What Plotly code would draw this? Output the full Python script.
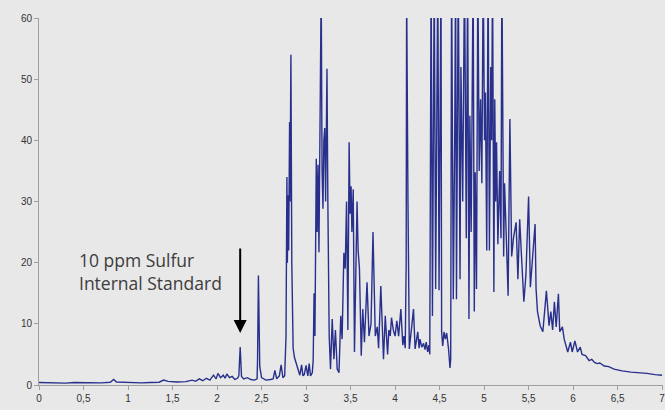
import plotly.graph_objects as go

# Retention time (x) and signal (y)
time_vals = [
    0.00, 0.10, 0.20, 0.30, 0.40, 0.50, 0.60, 0.70, 0.80, 0.84, 0.87, 0.95, 1.05, 1.15, 1.25, 1.35,
    1.40, 1.45, 1.55, 1.65, 1.72, 1.76, 1.80, 1.84, 1.88, 1.92, 1.96, 1.99, 2.01, 2.04, 2.07, 2.09,
    2.11, 2.14, 2.17, 2.20, 2.23, 2.245, 2.26, 2.275, 2.30, 2.34, 2.38, 2.42, 2.45, 2.455, 2.465,
    2.48, 2.50, 2.55, 2.60, 2.63, 2.65, 2.67, 2.70, 2.72, 2.74, 2.76, 2.775, 2.785, 2.79, 2.80,
    2.805, 2.815, 2.82, 2.83, 2.84, 2.855, 2.87, 2.89, 2.91, 2.93, 2.95, 2.965, 2.98, 3.00, 3.02,
    3.035, 3.05, 3.07, 3.08, 3.09, 3.10, 3.11, 3.115, 3.125, 3.135, 3.145, 3.16, 3.17, 3.18, 3.19,
    3.20, 3.21, 3.22, 3.235, 3.245, 3.25, 3.26, 3.275, 3.294, 3.313, 3.33, 3.35, 3.37, 3.39, 3.405,
    3.425, 3.44, 3.455, 3.47, 3.484, 3.495, 3.506, 3.515, 3.53, 3.544, 3.573, 3.585, 3.60, 3.62,
    3.637, 3.656, 3.685, 3.707, 3.73, 3.752, 3.778, 3.80, 3.815, 3.84, 3.87, 3.89, 3.916, 3.93,
    3.946, 3.96, 3.98, 4.00, 4.02, 4.04, 4.065, 4.087, 4.10, 4.114, 4.125, 4.13, 4.145, 4.16, 4.19,
    4.207, 4.225, 4.24, 4.255, 4.27, 4.28, 4.30, 4.32, 4.337, 4.35, 4.366, 4.38, 4.39, 4.405, 4.42,
    4.44, 4.456, 4.48, 4.494, 4.516, 4.523, 4.535, 4.55, 4.565, 4.58, 4.60, 4.617, 4.625, 4.635,
    4.654, 4.67, 4.68, 4.69, 4.71, 4.73, 4.74, 4.76, 4.78, 4.80, 4.815, 4.83, 4.84, 4.855, 4.877,
    4.89, 4.90, 4.915, 4.93, 4.945, 4.96, 4.975, 4.99, 5.005, 5.015, 5.03, 5.045, 5.06, 5.075,
    5.085, 5.095, 5.11, 5.12, 5.13, 5.14, 5.155, 5.175, 5.19, 5.20, 5.22, 5.23, 5.25, 5.27, 5.29,
    5.31, 5.33, 5.36, 5.38, 5.40, 5.417, 5.447, 5.47, 5.50, 5.52, 5.55, 5.573, 5.584, 5.60, 5.63,
    5.66, 5.68, 5.70, 5.73, 5.75, 5.77, 5.79, 5.81, 5.835, 5.85, 5.88, 5.90, 5.94, 5.97, 5.99, 6.02,
    6.05, 6.08, 6.10, 6.14, 6.18, 6.21, 6.24, 6.27, 6.30, 6.35, 6.40, 6.46, 6.55, 6.65, 6.75, 6.83,
    6.92, 7.00,
]
signal_vals = [
    0.4, 0.35, 0.4, 0.3, 0.4, 0.35, 0.4, 0.35, 0.45, 0.9, 0.5, 0.45, 0.4, 0.35, 0.4, 0.45,
    0.8, 0.6, 0.5, 0.55, 0.8, 0.6, 1.0, 0.7, 1.1, 0.8, 1.6, 1.0, 1.9, 1.2, 1.6, 1.1,
    1.8, 1.2, 1.4, 0.9, 1.1, 1.5, 6.2, 1.4, 1.0, 1.2, 0.9, 0.8, 1.0, 4.0, 17.9,
    3.0, 1.2, 0.8, 0.9, 1.0, 2.4, 1.0, 1.5, 3.3, 1.2, 1.5, 8.0, 34.0, 20.0, 31.0,
    22.0, 43.0, 30.0, 54.0, 20.0, 6.0, 4.5, 3.6, 2.5, 1.6, 3.3, 1.5, 1.7, 3.2, 1.5,
    3.5, 1.5, 2.0, 4.0, 15.0, 8.0, 30.0, 37.0, 25.0, 36.0, 21.7, 45.0, 65.0, 35.0, 28.8,
    40.0, 42.0, 30.0, 51.7, 30.0, 14.0, 8.0, 2.6, 10.8, 4.2, 9.0, 2.6, 2.0, 11.3, 7.5,
    21.6, 19.0, 30.0, 9.0, 39.7, 28.0, 32.5, 25.0, 32.0, 5.4, 30.0, 22.0, 19.0, 4.8,
    12.4, 7.0, 16.8, 8.0, 10.0, 25.0, 8.0, 9.5, 6.0, 16.2, 4.2, 11.3, 5.0, 9.0,
    8.0, 11.0, 9.0, 8.0, 10.5, 8.0, 12.4, 6.5, 8.0, 6.0, 20.0, 65.0, 30.0, 5.9, 10.0,
    12.4, 5.9, 7.0, 8.7, 6.0, 7.5, 6.2, 6.8, 5.8, 7.0, 5.4, 6.5, 5.0, 68.0, 11.3,
    68.0, 15.7, 68.0, 15.5, 68.0, 8.7, 6.4, 8.7, 7.5, 8.5, 6.0, 2.8, 4.2, 68.0,
    14.0, 40.0, 68.0, 14.0, 68.0, 17.3, 52.0, 30.0, 68.0, 24.0, 68.0, 10.8, 44.0, 25.0, 68.0,
    12.0, 34.8, 15.7, 68.0, 35.0, 46.7, 33.0, 68.0, 40.0, 47.8, 22.0, 68.0, 22.0, 52.0,
    40.0, 68.0, 15.2, 46.7, 30.0, 39.7, 23.0, 35.0, 24.0, 68.0, 21.0, 33.0, 24.0, 14.6, 43.5,
    21.0, 24.0, 26.6, 17.3, 27.1, 22.0, 13.6, 18.0, 30.8, 16.0, 22.0, 26.3, 15.7, 12.0, 9.7,
    8.7, 12.0, 15.4, 9.7, 12.0, 9.0, 13.6, 9.5, 14.9, 8.7, 9.5, 7.5, 5.4, 7.0, 5.4, 7.2,
    5.4, 6.2, 5.0, 4.8, 4.0, 4.2, 3.7, 3.5, 3.6, 3.1, 3.0, 2.6, 2.3, 2.1, 2.0, 1.9,
    1.7, 1.6,
]

x_tick_vals = [0, 0.5, 1, 1.5, 2, 2.5, 3, 3.5, 4, 4.5, 5, 5.5, 6, 6.5, 7]
x_tick_text = ["0", "0,5", "1", "1,5", "2", "2,5", "3", "3,5", "4", "4,5", "5", "5,5", "6", "6,5", "7"]
y_tick_vals = [0, 10, 20, 30, 40, 50, 60]

annotation_text = "10 ppm Sulfur<br>Internal Standard"
standard_peak_x = 2.26

BG = "rgb(232,232,232)"
AXIS = "rgb(160,160,160)"
TXT = "rgb(51,51,51)"

fig = go.Figure()
fig.add_trace(go.Scatter(
    x=time_vals, y=signal_vals, mode="lines",
    line=dict(color="rgb(40,48,140)", width=1.4),
    hoverinfo="skip", showlegend=False,
))

fig.add_annotation(
    x=0.43, y=18.6, xref="x", yref="y", text=annotation_text, showarrow=False,
    xanchor="left", yanchor="middle", align="left",
    font=dict(family="Open Sans, sans-serif", size=17.5, color="rgb(60,60,60)"),
)
fig.add_annotation(
    x=standard_peak_x, y=8.5, xref="x", yref="y", text="", showarrow=True,
    ax=0, ay=-86, axref="pixel", ayref="pixel",
    arrowhead=2, arrowsize=1.3, arrowwidth=2, arrowcolor="black",
)

fig.update_layout(
    width=665, height=410,
    margin=dict(l=39, r=2, t=18, b=25, autoexpand=False),
    paper_bgcolor=BG, plot_bgcolor=BG,
    font=dict(family="Liberation Sans, Arial, sans-serif", size=10, color=TXT),
    showlegend=False,
)
fig.update_xaxes(
    range=[0, 7.01], tickvals=x_tick_vals, ticktext=x_tick_text, automargin=False,
    ticklabeloverflow="allow",
    showgrid=False, zeroline=False, showline=True, linecolor=AXIS, linewidth=1,
    ticks="outside", ticklen=4, tickcolor=AXIS, tickfont=dict(size=10, color=TXT),
)
fig.update_yaxes(
    range=[0, 60], tickvals=y_tick_vals, automargin=False,
    showgrid=False, zeroline=False, showline=True, linecolor=AXIS, linewidth=1,
    ticks="outside", ticklen=4, tickcolor=AXIS, tickfont=dict(size=10, color=TXT),
)

fig.write_html(
    "out.html",
    config={"displayModeBar": False},
    post_script="document.body.style.margin='0';document.body.style.background='rgb(232,232,232)';",
)
